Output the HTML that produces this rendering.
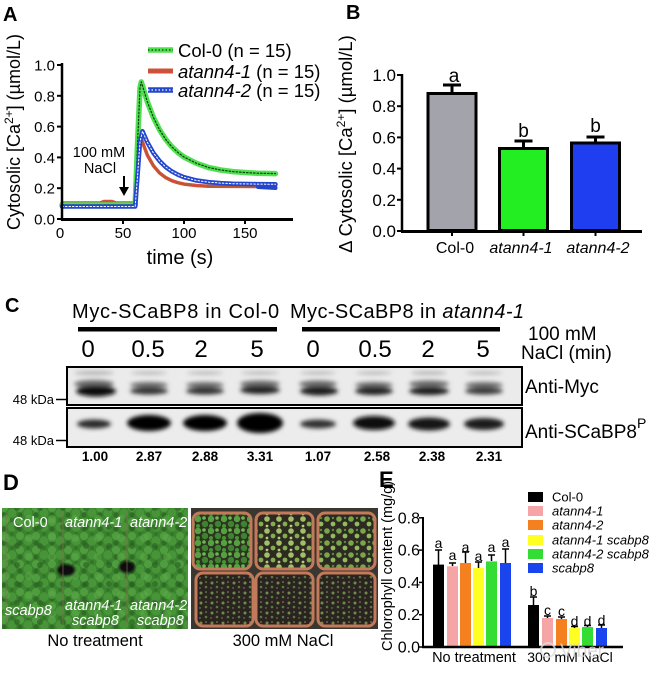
<!DOCTYPE html>
<html>
<head>
<meta charset="utf-8">
<style>
html,body{margin:0;padding:0;background:#fff;}
svg{display:block;font-family:"Liberation Sans",Arial,sans-serif;}
</style>
</head>
<body>
<svg width="650" height="675" viewBox="0 0 650 675" xmlns="http://www.w3.org/2000/svg">
<defs>
  <filter id="blur2" x="-30%" y="-80%" width="160%" height="260%"><feGaussianBlur stdDeviation="2"/></filter>
  <filter id="blur1" x="-30%" y="-80%" width="160%" height="260%"><feGaussianBlur stdDeviation="1.2"/></filter>
  <pattern id="pL" width="16" height="14" patternUnits="userSpaceOnUse">
    <rect width="16" height="14" fill="#3f8c32"/>
    <circle cx="4" cy="4" r="4" fill="#55a843"/>
    <circle cx="12" cy="9" r="4.5" fill="#4c9f3c"/>
    <circle cx="12" cy="2" r="2" fill="#357a2b"/>
    <circle cx="4" cy="11" r="2.5" fill="#326f28"/>
  </pattern>
  <pattern id="pL2" width="23" height="19" patternUnits="userSpaceOnUse">
    <circle cx="6" cy="6" r="4" fill="#62b64c" opacity="0.6"/>
    <circle cx="17" cy="14" r="3" fill="#2a5f22" opacity="0.6"/>
  </pattern>
  <pattern id="pG" width="13" height="12" patternUnits="userSpaceOnUse">
    <rect width="13" height="12" fill="#2c3520"/>
    <circle cx="3" cy="3" r="3.2" fill="#55a040"/>
    <circle cx="10" cy="8" r="3.2" fill="#3f8232"/>
    <circle cx="9" cy="2" r="1.8" fill="#6cb850"/>
    <circle cx="3" cy="10" r="2" fill="#4a9238"/>
  </pattern>
  <pattern id="pY" width="12" height="12" patternUnits="userSpaceOnUse">
    <rect width="12" height="12" fill="#2d2a22"/>
    <circle cx="3" cy="3" r="2.8" fill="#a0c068"/>
    <circle cx="9" cy="8" r="2.4" fill="#86ac52"/>
    <circle cx="3" cy="10" r="1.4" fill="#b8cc78"/>
  </pattern>
  <pattern id="pM" width="12" height="12" patternUnits="userSpaceOnUse">
    <rect width="12" height="12" fill="#2c2a22"/>
    <circle cx="3" cy="3" r="2.8" fill="#78a648"/>
    <circle cx="9" cy="8" r="2.4" fill="#92ba5e"/>
    <circle cx="9" cy="2" r="1.2" fill="#5d8a3a"/>
  </pattern>
  <pattern id="pS" width="11" height="10" patternUnits="userSpaceOnUse">
    <rect width="11" height="10" fill="#29241f"/>
    <circle cx="3" cy="3" r="1.5" fill="#6f8a4c"/>
    <circle cx="8" cy="7" r="1.3" fill="#5a7a40"/>
    <circle cx="8" cy="2" r="0.8" fill="#a09070"/>
    <circle cx="2" cy="8" r="0.7" fill="#9a8a6a"/>
  </pattern>
</defs>

<!-- ============ PANEL A ============ -->
<text x="3" y="21" font-size="20" font-weight="bold">A</text>
<g fill="none" stroke-linejoin="round" stroke-linecap="round">
  <polyline stroke="#d4503a" stroke-width="3.5" points="62,203 100,203 104,201.5 112,201.5 116,203 135.2,203 137.6,170 140,145 141.3,138.9 147.4,155.2 153.5,165.9 159.6,173 165.7,177.6 171.8,180.7 177.9,182.7 184,184.1 196.2,185.5 208.4,186.2 275.5,186.7"/>
  <polyline stroke="#a0602a" stroke-width="1" stroke-dasharray="1.5 2" points="62,203 135.2,203 137.6,170 140,145 141.3,138.9 147.4,155.2 153.5,165.9 159.6,173 165.7,177.6 171.8,180.7 177.9,182.7 184,184.1 196.2,185.5 208.4,186.2 275.5,186.7"/>
  <polyline stroke="#4fe04f" stroke-width="5.5" points="62,205 135.2,205 137.6,142 140,88 141.3,81.9 147.4,102 153.5,117.7 159.6,129.9 165.7,139.4 171.8,146.8 177.9,152.5 184,157 196.2,163.2 208.4,167.5 220.6,170 232.8,171.6 245,172.5 257.2,173.2 275.5,173.6"/>
  <polyline stroke="#0f3a0f" stroke-width="1.2" stroke-dasharray="1.5 2" points="62,205 135.2,205 137.6,142 140,88 141.3,81.9 147.4,102 153.5,117.7 159.6,129.9 165.7,139.4 171.8,146.8 177.9,152.5 184,157 196.2,163.2 208.4,167.5 220.6,170 232.8,171.6 245,172.5 257.2,173.2 275.5,173.6"/>
  <polyline stroke="#2446cc" stroke-width="4.5" points="62,206.5 135.2,206.5 137.6,175 140,142 142.5,131.2 147.4,142.4 153.5,153.1 159.6,161 165.7,167 171.8,171.4 177.9,174.7 184,177.2 196.2,180.4 208.4,182.1 220.6,183.1 232.8,183.7 257.2,184.1 275.5,184.3"/>
  <polyline stroke="#2446cc" stroke-width="4" points="258,187 275.5,188"/>
  <polyline stroke="#ffffff" stroke-width="1" stroke-dasharray="1.5 2" points="62,206.5 135.2,206.5 137.6,175 140,142 142.5,131.2 147.4,142.4 153.5,153.1 159.6,161 165.7,167 171.8,171.4 177.9,174.7 184,177.2 196.2,180.4 208.4,182.1 220.6,183.1 232.8,183.7 257.2,184.1 275.5,184.3"/>
</g>
<g stroke="#000" fill="none">
  <line x1="62" y1="63" x2="62" y2="220.5" stroke-width="2.5"/>
  <line x1="61" y1="219.5" x2="293" y2="219.5" stroke-width="3"/>
  <g stroke-width="2">
    <line x1="57" y1="219" x2="62" y2="219"/>
    <line x1="57" y1="188.2" x2="62" y2="188.2"/>
    <line x1="57" y1="157.4" x2="62" y2="157.4"/>
    <line x1="57" y1="126.6" x2="62" y2="126.6"/>
    <line x1="57" y1="95.8" x2="62" y2="95.8"/>
    <line x1="57" y1="65" x2="62" y2="65"/>
    <line x1="123" y1="219" x2="123" y2="224"/>
    <line x1="184" y1="219" x2="184" y2="224"/>
    <line x1="245" y1="219" x2="245" y2="224"/>
  </g>
</g>
<g font-size="15" text-anchor="end">
  <text x="55" y="224.5">0.0</text>
  <text x="55" y="193.7">0.2</text>
  <text x="55" y="162.9">0.4</text>
  <text x="55" y="132.1">0.6</text>
  <text x="55" y="101.3">0.8</text>
  <text x="55" y="70.5">1.0</text>
</g>
<g font-size="15" text-anchor="middle">
  <text x="60" y="238">0</text>
  <text x="123" y="238">50</text>
  <text x="184" y="238">100</text>
  <text x="245" y="238">150</text>
</g>
<text x="180" y="264" font-size="20" text-anchor="middle">time (s)</text>
<text transform="translate(20,132) rotate(-90)" font-size="18" text-anchor="middle">Cytosolic [Ca<tspan font-size="12" dy="-7">2+</tspan><tspan dy="7">] (µmol/L)</tspan></text>
<text x="99" y="157" font-size="14.5" text-anchor="middle">100 mM</text>
<text x="100" y="173" font-size="14.5" text-anchor="middle">NaCl</text>
<line x1="124" y1="176" x2="124" y2="189" stroke="#000" stroke-width="2"/>
<polygon points="119,187 129,187 124,196" fill="#000"/>
<g stroke-linecap="butt">
  <line x1="148" y1="50" x2="173" y2="50" stroke="#4fe04f" stroke-width="5.5"/>
  <line x1="148" y1="50" x2="173" y2="50" stroke="#0f3a0f" stroke-width="1.2" stroke-dasharray="1.5 2"/>
  <line x1="148" y1="71" x2="173" y2="71" stroke="#d4503a" stroke-width="5"/>
  <line x1="148" y1="71" x2="173" y2="71" stroke="#a0602a" stroke-width="1.2" stroke-dasharray="1.5 2"/>
  <line x1="148" y1="90" x2="173" y2="90" stroke="#2446cc" stroke-width="5.5"/>
  <line x1="148" y1="90" x2="173" y2="90" stroke="#ffffff" stroke-width="1.2" stroke-dasharray="1.5 2"/>
</g>
<g font-size="18.5">
  <text x="178" y="57">Col-0 (n = 15)</text>
  <text x="178" y="78"><tspan font-style="italic">atann4-1</tspan> (n = 15)</text>
  <text x="178" y="97"><tspan font-style="italic">atann4-2</tspan> (n = 15)</text>
</g>

<!-- ============ PANEL B ============ -->
<text x="346" y="19" font-size="20" font-weight="bold">B</text>
<text transform="translate(352,144) rotate(-90)" font-size="18.5" text-anchor="middle">Δ Cytosolic [Ca<tspan font-size="12" dy="-7">2+</tspan><tspan dy="7">] (µmol/L)</tspan></text>
<g stroke="#000" stroke-width="3">
  <rect x="428" y="93.5" width="48" height="137" fill="#a3a3ab"/>
  <rect x="499.5" y="148.5" width="48" height="82" fill="#22ee22"/>
  <rect x="571.5" y="143" width="48" height="87.5" fill="#1e3ef0"/>
</g>
<g stroke="#000" stroke-width="3">
  <line x1="452" y1="93" x2="452" y2="85"/><line x1="443" y1="85" x2="461" y2="85"/>
  <line x1="523.5" y1="148" x2="523.5" y2="141"/><line x1="514.5" y1="141" x2="532.5" y2="141"/>
  <line x1="595.5" y1="143" x2="595.5" y2="137"/><line x1="586.5" y1="137" x2="604.5" y2="137"/>
</g>
<g stroke="#000" fill="none">
  <line x1="402" y1="74" x2="402" y2="232" stroke-width="2.5"/>
  <line x1="401" y1="231.5" x2="642" y2="231.5" stroke-width="3"/>
  <g stroke-width="2">
    <line x1="397" y1="231" x2="402" y2="231"/>
    <line x1="397" y1="199.8" x2="402" y2="199.8"/>
    <line x1="397" y1="168.6" x2="402" y2="168.6"/>
    <line x1="397" y1="137.4" x2="402" y2="137.4"/>
    <line x1="397" y1="106.2" x2="402" y2="106.2"/>
    <line x1="397" y1="75" x2="402" y2="75"/>
    <line x1="452" y1="231" x2="452" y2="236"/>
    <line x1="523.5" y1="231" x2="523.5" y2="236"/>
    <line x1="595.5" y1="231" x2="595.5" y2="236"/>
  </g>
</g>
<g font-size="17" text-anchor="end">
  <text x="396" y="237">0.0</text>
  <text x="396" y="205.8">0.2</text>
  <text x="396" y="174.6">0.4</text>
  <text x="396" y="143.4">0.6</text>
  <text x="396" y="112.2">0.8</text>
  <text x="396" y="81">1.0</text>
</g>
<g font-size="19" text-anchor="middle">
  <text x="454" y="82">a</text>
  <text x="523.5" y="137">b</text>
  <text x="595.5" y="132">b</text>
</g>
<g font-size="16" text-anchor="middle">
  <text x="455" y="253">Col-0</text>
  <text x="521" y="253" font-style="italic">atann4-1</text>
  <text x="598" y="253" font-style="italic">atann4-2</text>
</g>

<!-- ============ PANEL C ============ -->
<text x="5" y="312" font-size="20" font-weight="bold">C</text>
<text x="72" y="318" font-size="20" letter-spacing="0.7">Myc-SCaBP8 in Col-0</text>
<text x="290" y="318" font-size="20" letter-spacing="0.4">Myc-SCaBP8 in <tspan font-style="italic">atann4-1</tspan></text>
<rect x="78" y="327" width="199" height="4.5" fill="#000"/>
<rect x="302" y="327" width="198" height="4.5" fill="#000"/>
<g font-size="24" text-anchor="middle">
  <text x="88" y="357">0</text>
  <text x="148" y="357">0.5</text>
  <text x="201" y="357">2</text>
  <text x="257" y="357">5</text>
  <text x="313" y="357">0</text>
  <text x="375" y="357">0.5</text>
  <text x="428" y="357">2</text>
  <text x="483" y="357">5</text>
</g>
<text x="528" y="340" font-size="19">100 mM</text>
<text x="521" y="359" font-size="19">NaCl (min)</text>
<rect x="67" y="367" width="455" height="38" fill="#ebebeb"/>
<g filter="url(#blur2)">
  <g fill="#9a9a9a" opacity="0.7">
    <ellipse cx="94" cy="373" rx="20" ry="2"/>
    <ellipse cx="149" cy="373" rx="18" ry="1.5"/>
    <ellipse cx="205" cy="373" rx="18" ry="1.5"/>
    <ellipse cx="260" cy="373" rx="19" ry="1.5"/>
    <ellipse cx="318" cy="373" rx="18" ry="1.5"/>
    <ellipse cx="374" cy="373" rx="18" ry="1.5"/>
    <ellipse cx="429" cy="373" rx="18" ry="1.8"/>
    <ellipse cx="484" cy="373" rx="18" ry="1.5"/>
  </g>
  <g fill="#6a6a6a">
    <ellipse cx="94" cy="384" rx="20" ry="4"/>
    <ellipse cx="149" cy="385" rx="19" ry="3"/>
    <ellipse cx="205" cy="385" rx="19" ry="3"/>
    <ellipse cx="260" cy="384" rx="20" ry="3.5"/>
    <ellipse cx="318" cy="384" rx="19" ry="3.5"/>
    <ellipse cx="374" cy="385" rx="19" ry="3"/>
    <ellipse cx="429" cy="384" rx="20" ry="3.5"/>
    <ellipse cx="484" cy="385" rx="19" ry="3"/>
  </g>
  <ellipse cx="96" cy="391" rx="20" ry="5.5" fill="#111"/>
  <ellipse cx="149" cy="391" rx="19" ry="3.5" fill="#333"/>
  <ellipse cx="205" cy="391" rx="19" ry="3.5" fill="#2e2e2e"/>
  <ellipse cx="260" cy="390" rx="20" ry="4" fill="#222"/>
  <ellipse cx="319" cy="391" rx="19" ry="4.5" fill="#1a1a1a"/>
  <ellipse cx="374" cy="391" rx="19" ry="4" fill="#222"/>
  <ellipse cx="429" cy="391" rx="20" ry="4" fill="#1c1c1c"/>
  <ellipse cx="484" cy="391" rx="19" ry="3.5" fill="#3a3a3a"/>
</g>
<rect x="67" y="367" width="455" height="38" fill="none" stroke="#000" stroke-width="2"/>
<rect x="67" y="408" width="455" height="39" fill="#ececec"/>
<g filter="url(#blur2)">
  <ellipse cx="94" cy="424" rx="17" ry="4.5" fill="#2a2a2a"/>
  <ellipse cx="149" cy="423" rx="22" ry="8" fill="#050505"/>
  <ellipse cx="205" cy="423" rx="22" ry="8" fill="#050505"/>
  <ellipse cx="260" cy="423" rx="23" ry="10" fill="#000"/>
  <ellipse cx="318" cy="424" rx="18" ry="4.5" fill="#333"/>
  <ellipse cx="374" cy="423" rx="21" ry="7" fill="#0c0c0c"/>
  <ellipse cx="429" cy="424" rx="21" ry="6.5" fill="#161616"/>
  <ellipse cx="484" cy="424" rx="20" ry="6" fill="#1e1e1e"/>
</g>
<rect x="67" y="408" width="455" height="39" fill="none" stroke="#000" stroke-width="2"/>
<text x="525" y="393" font-size="19">Anti-Myc</text>
<text x="525" y="438" font-size="19">Anti-SCaBP8<tspan font-size="14" dy="-10">P</tspan></text>
<g font-size="13" text-anchor="end">
  <text x="54" y="404">48 kDa</text>
  <text x="54" y="445">48 kDa</text>
</g>
<g stroke="#000" stroke-width="1.5">
  <line x1="56" y1="399.5" x2="66" y2="399.5"/>
  <line x1="56" y1="440.5" x2="66" y2="440.5"/>
</g>
<g font-size="13.5" font-weight="bold" text-anchor="middle">
  <text x="95" y="461">1.00</text>
  <text x="149" y="461">2.87</text>
  <text x="205" y="461">2.88</text>
  <text x="260" y="461">3.31</text>
  <text x="318" y="461">1.07</text>
  <text x="377" y="461">2.58</text>
  <text x="432" y="461">2.38</text>
  <text x="489" y="461">2.31</text>
</g>

<!-- ============ PANEL D ============ -->
<text x="3" y="490" font-size="22" font-weight="bold">D</text>
<rect x="2" y="508" width="186" height="121" fill="url(#pL)"/>
<rect x="2" y="508" width="186" height="121" fill="url(#pL2)"/>
<rect x="2" y="508" width="186" height="121" fill="#2a5020" opacity="0.12"/>
<ellipse cx="66" cy="570" rx="9" ry="6" fill="#111" filter="url(#blur1)"/>
<ellipse cx="127" cy="567" rx="8" ry="6" fill="#111" filter="url(#blur1)"/>
<g fill="none" stroke="#8a6a50" stroke-width="1.5" opacity="0.45">
  <line x1="63" y1="512" x2="63" y2="625"/>
  <line x1="127" y1="512" x2="127" y2="625"/>
  <line x1="6" y1="512" x2="6" y2="625"/>
</g>
<g fill="#fff" font-size="14.5">
  <text x="13" y="527">Col-0</text>
  <text x="65" y="527" font-style="italic">atann4-1</text>
  <text x="130" y="527" font-style="italic">atann4-2</text>
  <text x="5" y="615" font-style="italic">scabp8</text>
  <text x="65" y="610" font-style="italic">atann4-1</text>
  <text x="72" y="625" font-style="italic">scabp8</text>
  <text x="130" y="610" font-style="italic">atann4-2</text>
  <text x="137" y="625" font-style="italic">scabp8</text>
</g>
<rect x="191" y="508" width="187" height="121" fill="#3a3630"/>
<g stroke="#c27a5a" stroke-width="3">
  <rect x="193" y="513" width="58" height="56" rx="7" fill="url(#pG)"/>
  <rect x="256" y="513" width="57" height="56" rx="7" fill="url(#pY)"/>
  <rect x="318" y="513" width="57" height="56" rx="7" fill="url(#pM)"/>
  <rect x="196" y="573" width="57" height="53" rx="7" fill="url(#pS)"/>
  <rect x="256" y="573" width="57" height="53" rx="7" fill="url(#pS)"/>
  <rect x="318" y="573" width="57" height="53" rx="7" fill="url(#pS)"/>
</g>
<text x="95" y="646" font-size="16.5" text-anchor="middle">No treatment</text>
<text x="283" y="646" font-size="16.5" text-anchor="middle">300 mM NaCl</text>

<!-- ============ PANEL E ============ -->
<text x="379" y="487" font-size="22" font-weight="bold">E</text>
<text transform="translate(392,566) rotate(-90)" font-size="14.5" text-anchor="middle">Chlorophyll content (mg/g)</text>
<g>
  <rect x="433" y="564.6" width="11" height="82.4" fill="#000"/>
  <rect x="447" y="566.3" width="11" height="80.7" fill="#f5a5a5"/>
  <rect x="460" y="563" width="11" height="84" fill="#f58020"/>
  <rect x="473" y="567.9" width="11" height="79.1" fill="#ffff22"/>
  <rect x="486" y="561.4" width="11" height="85.6" fill="#33dd33"/>
  <rect x="500" y="563" width="11" height="84" fill="#1a44ee"/>
  <rect x="528" y="605" width="11" height="42" fill="#000"/>
  <rect x="542" y="618" width="11" height="29" fill="#f5a5a5"/>
  <rect x="556" y="619" width="11" height="28" fill="#f58020"/>
  <rect x="569" y="628" width="11" height="19" fill="#ffff22"/>
  <rect x="582" y="627" width="11" height="20" fill="#33dd33"/>
  <rect x="596" y="628" width="11" height="19" fill="#1a44ee"/>
</g>
<g stroke="#000" stroke-width="1.5">
  <line x1="438.5" y1="565" x2="438.5" y2="550"/><line x1="435" y1="550" x2="442" y2="550"/>
  <line x1="452.5" y1="566" x2="452.5" y2="563"/><line x1="449" y1="563" x2="456" y2="563"/>
  <line x1="465.5" y1="563" x2="465.5" y2="552"/><line x1="462" y1="552" x2="469" y2="552"/>
  <line x1="478.5" y1="568" x2="478.5" y2="562"/><line x1="475" y1="562" x2="482" y2="562"/>
  <line x1="491.5" y1="561" x2="491.5" y2="555"/><line x1="488" y1="555" x2="495" y2="555"/>
  <line x1="505.5" y1="563" x2="505.5" y2="549"/><line x1="502" y1="549" x2="509" y2="549"/>
  <line x1="533.5" y1="605" x2="533.5" y2="597"/><line x1="530" y1="597" x2="537" y2="597"/>
  <line x1="547.5" y1="618" x2="547.5" y2="616"/><line x1="544" y1="616" x2="551" y2="616"/>
  <line x1="561.5" y1="619" x2="561.5" y2="617"/><line x1="558" y1="617" x2="565" y2="617"/>
  <line x1="574.5" y1="628" x2="574.5" y2="626.5"/><line x1="571" y1="626.5" x2="578" y2="626.5"/>
  <line x1="587.5" y1="627" x2="587.5" y2="625.5"/><line x1="584" y1="625.5" x2="591" y2="625.5"/>
  <line x1="601.5" y1="628" x2="601.5" y2="625"/><line x1="598" y1="625" x2="605" y2="625"/>
</g>
<g font-size="14" text-anchor="middle">
  <text x="438.5" y="548">a</text>
  <text x="452.5" y="560">a</text>
  <text x="465.5" y="552">a</text>
  <text x="478.5" y="561">a</text>
  <text x="491.5" y="552">a</text>
  <text x="505.5" y="547">a</text>
  <text x="533.5" y="596">b</text>
  <text x="547.5" y="615">c</text>
  <text x="561.5" y="616">c</text>
  <text x="574.5" y="626">d</text>
  <text x="587.5" y="626">d</text>
  <text x="601.5" y="625">d</text>
</g>
<g stroke="#000" fill="none">
  <line x1="423" y1="517" x2="423" y2="648" stroke-width="2"/>
  <line x1="422" y1="647" x2="623" y2="647" stroke-width="2.5"/>
  <g stroke-width="1.5">
    <line x1="419" y1="647" x2="423" y2="647"/>
    <line x1="419" y1="614.7" x2="423" y2="614.7"/>
    <line x1="419" y1="582.4" x2="423" y2="582.4"/>
    <line x1="419" y1="550.1" x2="423" y2="550.1"/>
    <line x1="419" y1="517.8" x2="423" y2="517.8"/>
  </g>
</g>
<g font-size="16" text-anchor="end">
  <text x="420" y="652.5">0.0</text>
  <text x="420" y="620.2">0.2</text>
  <text x="420" y="587.9">0.4</text>
  <text x="420" y="555.6">0.6</text>
  <text x="420" y="523.3">0.8</text>
</g>
<text x="474" y="662" font-size="14.5" text-anchor="middle">No treatment</text>
<text x="570" y="662" font-size="14" text-anchor="middle">300 mM NaCl</text>
<g>
  <rect x="528" y="492" width="15" height="10" fill="#000"/>
  <rect x="528" y="506" width="15" height="10" fill="#f5a5a5"/>
  <rect x="528" y="520" width="15" height="10" fill="#f58020"/>
  <rect x="528" y="535" width="15" height="10" fill="#ffff22"/>
  <rect x="528" y="549" width="15" height="10" fill="#33dd33"/>
  <rect x="528" y="563" width="15" height="10" fill="#1a44ee"/>
</g>
<g font-size="13">
  <text x="552" y="501.5">Col-0</text>
  <text x="552" y="515.5" font-style="italic">atann4-1</text>
  <text x="552" y="529.5" font-style="italic">atann4-2</text>
  <text x="552" y="544.5" font-style="italic">atann4-1 scabp8</text>
  <text x="552" y="558.5" font-style="italic">atann4-2 scabp8</text>
  <text x="552" y="572.5" font-style="italic">scabp8</text>
</g>
<circle cx="548" cy="650" r="7" fill="none" stroke="#dcdcdc" stroke-width="2" opacity="0.8"/>
<text x="560" y="657" font-size="19" fill="#d8d8d8" opacity="0.85">Viber</text>
</svg>
</body>
</html>
